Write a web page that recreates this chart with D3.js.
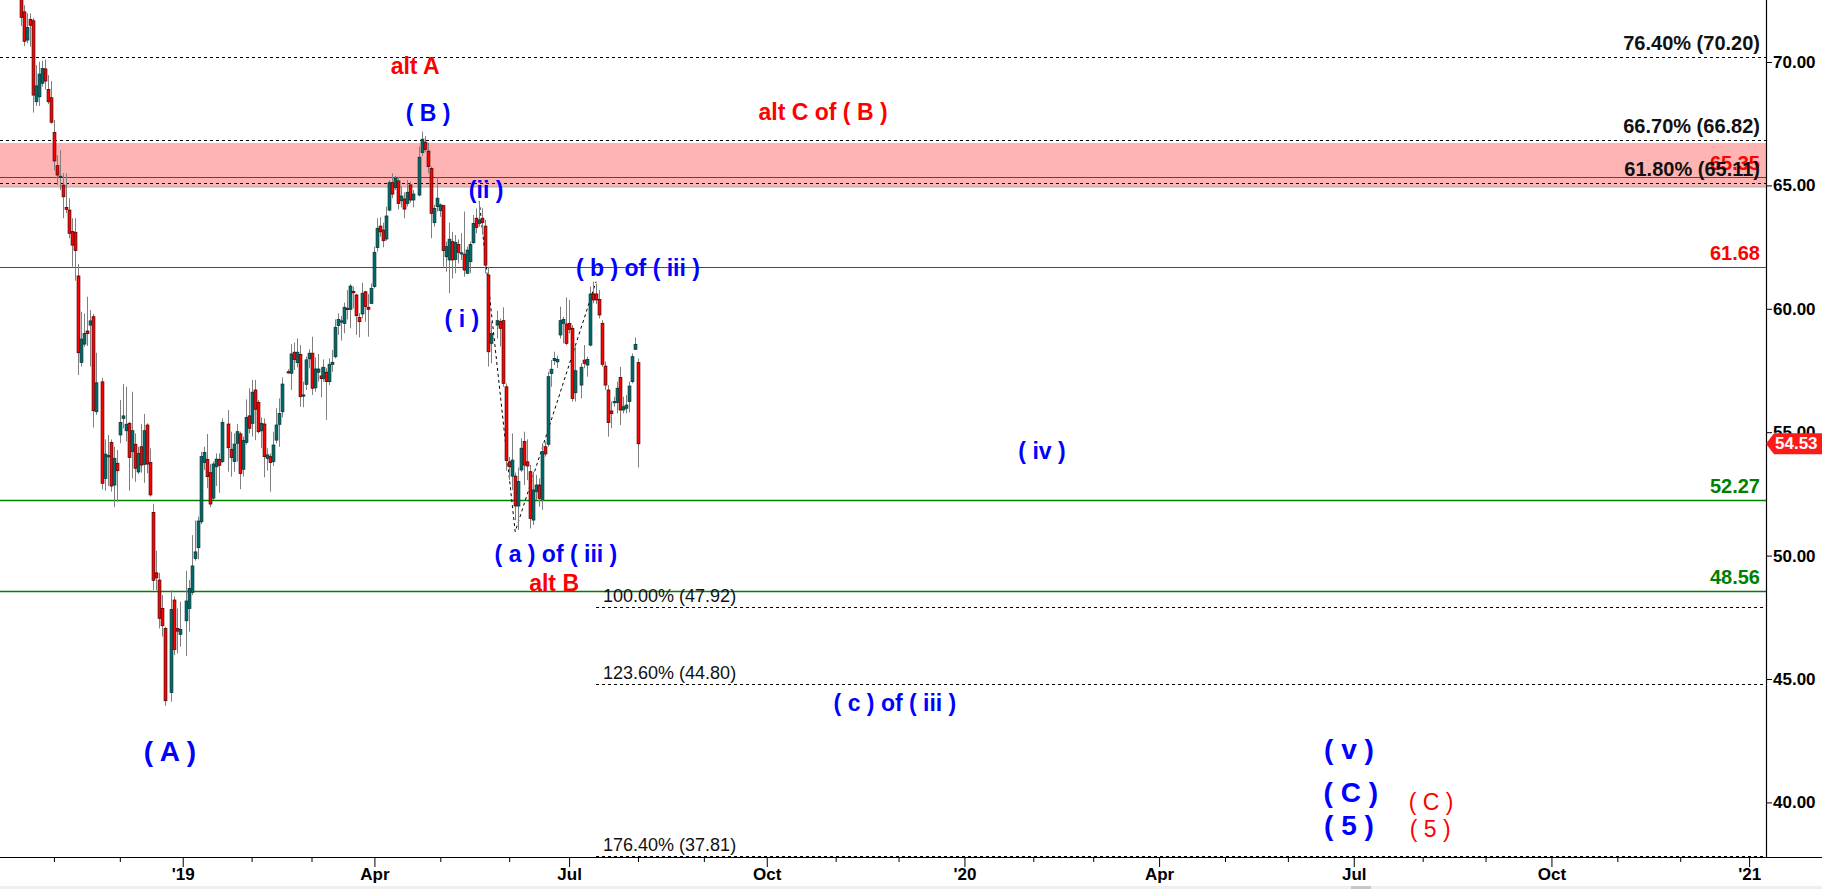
<!DOCTYPE html>
<html><head><meta charset="utf-8">
<script src="https://cdn.jsdelivr.net/npm/d3@7"></script>
<style>html,body{margin:0;padding:0;background:#fff;overflow:hidden}svg{display:block}</style>
</head><body><svg id="c" width="1822" height="889"></svg>
<script>
// ---------- DATA ----------
const startDate = "2018-10-17";   // first trading-day slot
const endDate = "2021-01-31";     // last slot of the time axis
// daily candles [open, high, low, close]; null = market holiday (empty slot)
const ohlc = [
[73.0,73.5,71.46,71.81],[72.03,72.3,70.65,70.84],[70.89,71.97,70.76,71.40],[71.73,71.97,70.62,71.49],
[71.67,71.77,67.95,68.66],[68.39,69.88,68.22,69.03],[68.59,70.01,68.22,69.51],[69.14,70.05,69.0,69.74],
[69.72,70.1,68.89,69.23],[68.89,69.47,68.3,68.39],[68.55,69.23,67.5,67.56],[67.14,67.65,65.6,65.99],
[65.80,66.23,65.01,65.42],[65.33,66.43,64.81,65.37],[65.01,65.49,63.67,64.54],[64.11,65.49,63.87,64.03],
[64.0,64.48,62.86,63.06],[63.13,63.67,61.71,62.58],[63.1,63.67,61.14,62.36],[61.33,61.82,57.32,58.22],
[57.83,59.88,57.66,58.77],[58.57,59.81,58.46,59.0],[59.10,60.49,58.49,59.0],[59.34,59.95,57.66,59.51],
[59.68,59.79,55.19,55.87],[55.83,58.22,55.7,57.0],null,[57.04,57.2,52.69,52.93],
[53.13,54.71,52.63,54.11],[54.03,54.89,52.82,54.05],[54.58,54.71,52.59,52.82],[52.86,54.41,51.96,53.94],
[53.74,54.28,52.19,53.44],[54.89,56.31,54.55,55.39],[55.56,56.95,55.15,55.66],[55.06,56.85,54.62,55.32],
[55.36,55.42,52.63,53.98],[54.21,56.64,53.13,55.06],[54.51,54.95,52.99,53.54],[53.39,54.41,53.30,54.14],
[54.41,55.33,53.36,53.67],[53.70,55.74,52.95,55.06],[55.29,55.36,53.33,53.71],[53.77,54.35,52.39,52.46],
[51.75,52.1,48.6,49.0],[49.3,50.2,48.6,49.1],[49.01,49.3,47.05,47.46],[47.86,48.40,46.72,47.16],
[47.05,47.12,43.91,44.12],null,[44.45,48.6,44.08,47.82],[48.2,48.34,45.97,46.2],
[47.05,47.86,46.04,46.94],[46.81,48.13,46.31,47.01],null,[47.36,49.39,45.93,48.16],
[47.86,49.01,46.92,48.67],[48.51,50.83,48.40,49.58],[49.88,51.42,49.80,50.15],[50.32,51.58,49.85,51.40],
[51.37,54.21,51.28,54.01],[53.77,54.41,53.47,54.18],[53.90,54.93,52.73,53.20],[53.36,53.71,51.96,52.09],
[52.33,53.81,52.25,53.71],[53.60,54.14,52.82,53.91],[53.90,54.14,52.55,53.66],[53.81,55.56,53.75,55.40],
null,[55.33,55.90,53.40,54.37],[54.31,55.02,53.20,53.98],[53.81,54.95,53.40,54.52],
[54.55,55.33,53.81,55.02],[54.93,55.02,52.69,53.33],[53.50,54.82,53.2,54.66],[54.59,56.33,54.5,55.60],
[55.66,56.78,54.95,55.16],[55.36,57.12,54.82,56.62],[56.71,57.12,54.68,55.93],[56.21,56.30,54.95,55.02],
[55.06,55.60,54.35,55.36],[55.33,55.56,53.17,54.01],[53.94,54.35,53.44,54.08],[54.01,54.14,52.59,53.77],
[53.81,55.02,53.63,54.48],[54.68,55.97,54.55,55.29],[55.32,56.37,54.41,55.76],[55.83,57.22,55.60,56.95],
null,[57.45,57.55,57.38,57.40],[57.39,58.57,56.71,58.17],[58.24,58.63,57.52,57.95],
[57.82,58.80,57.63,58.24],[58.15,58.53,56.03,56.44],[56.47,57.05,56.01,56.51],[56.94,58.06,56.71,57.93],
[57.97,58.36,57.59,58.20],[58.20,58.87,56.51,56.78],[56.80,58.03,56.64,57.56],[57.43,58.17,57.05,57.56],
[57.28,57.63,56.41,57.17],[57.18,57.95,57.05,57.63],[57.43,57.59,55.5,57.05],[57.05,57.99,56.91,57.75],
[57.75,58.33,57.45,57.83],[58.06,59.57,57.99,59.25],[59.32,59.82,58.94,59.57],[59.48,59.71,58.71,59.51],
[59.41,60.25,59.01,60.06],[60.02,60.76,59.57,59.97],[59.98,61.0,59.21,60.92],[60.70,60.90,60.02,60.65],
[60.56,60.60,58.94,59.72],[59.65,59.82,58.84,59.48],[59.79,61.06,59.61,60.63],[60.69,60.73,59.48,60.09],
[60.06,60.60,58.87,59.98],[60.22,61.03,60.19,60.83],[60.90,62.52,60.83,62.29],[62.48,63.67,62.32,63.26],
[63.35,63.71,62.92,63.12],[63.19,63.49,62.49,62.76],[62.83,64.14,62.76,63.76],[64.00,65.22,63.95,65.11],
[65.11,65.49,64.48,64.65],[64.91,65.38,64.81,65.29],[65.18,65.35,64.03,64.27],[64.38,64.95,64.11,64.57],
[64.45,64.71,63.67,64.04],[64.27,65.22,64.14,64.72],[65.02,65.15,64.30,64.41],[64.41,64.81,64.11,64.65],
null,[64.61,66.57,64.55,66.14],[66.33,67.18,66.19,66.87],[66.75,67.0,66.37,66.46],
[66.39,66.73,65.49,65.76],[65.69,65.76,62.86,63.87],[63.49,64.21,63.33,64.07],[64.14,65.33,63.94,64.48],
[63.98,64.27,63.73,64.21],[64.18,64.21,61.71,62.36],[62.11,62.72,61.50,62.52],[61.98,63.49,60.63,62.82],
[62.72,63.12,61.23,61.98],[62.0,62.99,61.44,62.69],[62.61,62.81,61.84,62.29],[62.23,63.06,61.98,62.27],
[62.21,63.94,61.30,61.57],[61.44,62.52,61.41,62.38],[61.91,62.72,61.46,62.61],[62.68,63.80,62.63,63.46],
[63.67,64.07,63.06,63.30],[63.46,64.37,63.33,63.60],[63.67,64.07,63.0,63.50],[63.35,63.60,61.44,61.77],
[61.37,61.71,57.66,58.26],[58.60,59.48,57.79,59.0],null,[59.34,59.92,58.80,59.52],
[59.48,59.61,58.47,59.21],[59.52,60.06,56.84,56.98],[56.84,56.98,53.44,53.85],[53.80,54.0,53.06,53.60],
[53.22,54.95,52.66,53.87],[53.22,53.36,51.44,52.01],[52.01,53.57,51.04,53.0],[53.47,54.75,53.40,54.35],
[54.62,55.02,52.86,53.67],[53.80,54.71,53.06,53.63],[53.40,53.67,51.10,51.51],[51.44,53.40,51.24,52.66],
[52.59,53.27,52.25,52.86],[52.86,53.13,51.98,52.32],[52.28,54.55,51.85,54.21],[54.41,54.62,54.01,54.12],
[54.51,57.45,54.41,57.25],[57.38,57.92,56.84,57.55],[57.90,58.26,57.72,57.99],[57.85,58.1,57.6,57.95],
[58.94,60.09,58.80,59.52],[59.41,59.68,58.60,59.57],[59.38,60.46,58.53,58.60],[59.41,60.36,59.0,59.17],
[59.21,59.34,56.24,56.37],[56.60,58.47,56.24,57.49],null,[56.91,57.79,56.37,57.63],
[57.92,58.53,57.59,57.79],[57.72,58.06,57.25,57.95],[58.53,60.90,58.47,60.60],[60.60,61.10,60.22,60.36],
[60.60,61.03,60.19,60.36],[60.38,60.76,59.61,59.75],[59.41,59.54,57.65,57.75],[57.68,57.86,56.71,56.91],
[56.71,56.91,54.82,55.39],[55.86,56.24,55.16,55.76],[56.20,56.44,56.03,56.24],[56.20,57.05,55.76,56.78],
[57.22,57.65,55.29,55.90],[55.90,56.44,55.76,56.03],[55.97,56.5,55.76,56.10],[56.24,57.05,55.80,56.87],
[57.05,58.19,56.98,58.06],[58.36,58.84,58.33,58.56],[57.82,57.99,53.57,54.53]
];
const yTicks = [40, 45, 50, 55, 60, 65, 70];
const monthNames = ["'YY","Feb","Mar","Apr","May","Jun","Jul","Aug","Sep","Oct","Nov","Dec"];
const zone = [64.94, 66.72];                       // pink resistance zone
const dottedLevels = [[70.20, "76.40% (70.20)"], [66.82, "66.70% (66.82)"], [65.11, "61.80% (65.11)"]];
const solidLevels = [[65.35, "65.35", "#ff0000"], [61.68, "61.68", "#ff0000"], [52.27, "52.27", "#008000"], [48.56, "48.56", "#008000"]];
const fibLevels = [[47.92, "100.00% (47.92)"], [44.80, "123.60% (44.80)"], [37.81, "176.40% (37.81)"]];
const fibStartSlot = 192;
const lastPrice = 54.53;
const wavePath = [[153, 64.37], [165, 50.97], [192, 61.10]];   // [slot, price]
// [text, slot, price, colour, font-size, weight]
const waveLabels = [
  ["alt A", 131.6, 69.84, "#ff0000", 23, "bold"],
  ["( B )", 135.9, 67.93, "#0000ff", 23, "bold"],
  ["(ii )", 155.3, 64.81, "#0000ff", 23, "bold"],
  ["( i )", 147.2, 59.59, "#0000ff", 23, "bold"],
  ["( b ) of ( iii )", 206, 61.65, "#0000ff", 23, "bold"],
  ["alt C of ( B )", 267.8, 67.97, "#ff0000", 23, "bold"],
  ["( iv )", 340.9, 54.24, "#0000ff", 23, "bold"],
  ["( a ) of ( iii )", 178.6, 50.07, "#0000ff", 23, "bold"],
  ["alt B", 178, 48.89, "#ff0000", 23, "bold"],
  ["( c ) of ( iii )", 291.8, 44.03, "#0000ff", 23, "bold"],
  ["( A )", 49.7, 42.08, "#0000ff", 28, "bold"],
  ["( v )", 443.4, 42.16, "#0000ff", 28, "bold"],
  ["( C )", 444, 40.42, "#0000ff", 28, "bold"],
  ["( 5 )", 443.4, 39.08, "#0000ff", 28, "bold"],
  ["( C )", 470.8, 40.02, "#ff0000", 23, "normal"],
  ["( 5 )", 470.5, 38.92, "#ff0000", 23, "normal"]
];

// ---------- LAYOUT ----------
const W = 1822, H = 889, plotR = 1766, plotB = 857;
const FONT = "'Liberation Sans', Arial, Helvetica, sans-serif";

// trading-day slots (weekdays) for the time axis
const slots = [];
for (let d = new Date(startDate + "T12:00:00Z"); d <= new Date(endDate + "T12:00:00Z"); d.setUTCDate(d.getUTCDate() + 1)) {
  const wd = d.getUTCDay();
  if (wd !== 0 && wd !== 6) slots.push(new Date(d));
}
const monthStarts = [];
slots.forEach((d, i) => {
  if (i === 0) return;
  if (d.getUTCMonth() !== slots[i - 1].getUTCMonth()) monthStarts.push({i, m: d.getUTCMonth(), y: d.getUTCFullYear()});
});

const x = d3.scaleLinear().domain([0, 577]).range([21, 21 + 2.995 * 577]);
const y = d3.scaleLinear().domain([40, 70]).range([802.4, 62]);

const svg = d3.select("#c").style("font-family", FONT);
svg.append("rect").attr("width", W).attr("height", H).attr("fill", "#fff");
svg.append("defs").append("clipPath").attr("id", "plot")
  .append("rect").attr("x", 0).attr("y", 0).attr("width", plotR).attr("height", plotB);
const g = svg.append("g").attr("clip-path", "url(#plot)");

// zone
g.append("rect").attr("x", 0).attr("width", plotR)
  .attr("y", y(zone[1])).attr("height", y(zone[0]) - y(zone[1])).attr("fill", "#ffb4b4");
g.append("line").attr("x1", 0).attr("x2", plotR).attr("y1", y(zone[0])).attr("y2", y(zone[0]))
  .attr("stroke", "#b0b0b0").attr("stroke-width", 1.2);

// solid level lines
solidLevels.forEach(([v, , c]) => {
  g.append("line").attr("x1", 0).attr("x2", plotR).attr("y1", Math.round(y(v)) + 0.5).attr("y2", Math.round(y(v)) + 0.5)
    .attr("stroke", c).attr("stroke-width", c === "#008000" ? 1.3 : 1.1);
});
// dotted fib levels (full width)
dottedLevels.forEach(([v]) => {
  g.append("line").attr("x1", 0).attr("x2", plotR).attr("y1", Math.round(y(v)) + 0.5).attr("y2", Math.round(y(v)) + 0.5)
    .attr("stroke", "#000").attr("stroke-width", 1).attr("stroke-dasharray", "3,3");
});
// dotted fib extensions
fibLevels.forEach(([v]) => {
  g.append("line").attr("x1", x(fibStartSlot)).attr("x2", plotR).attr("y1", Math.round(y(v)) + 0.5).attr("y2", Math.round(y(v)) + 0.5)
    .attr("stroke", "#000").attr("stroke-width", 1).attr("stroke-dasharray", "3,3");
});

// wave path
g.append("path").attr("d", d3.line().x(d => x(d[0])).y(d => y(d[1]))(wavePath))
  .attr("fill", "none").attr("stroke", "#000").attr("stroke-width", 1).attr("stroke-dasharray", "3,3");

// candles
const cg = g.append("g");
ohlc.forEach((d, i) => {
  if (!d) return;
  const [o, h, l, c] = d;
  const cx = Math.round(x(i));
  cg.append("line").attr("x1", cx + 0.5).attr("x2", cx + 0.5).attr("y1", y(h)).attr("y2", y(l))
    .attr("stroke", "#808080").attr("stroke-width", 1);
  const up = c >= o;
  const top = y(Math.max(o, c)), bot = y(Math.min(o, c));
  cg.append("rect").attr("x", cx - 0.9).attr("width", 2.8)
    .attr("y", top).attr("height", Math.max(1.2, bot - top))
    .attr("fill", up ? "#006a6a" : "#ff0000")
    .attr("stroke", up ? "#053838" : "#5a0000").attr("stroke-width", 0.8);
});

// right level labels
const lab = svg.append("g").attr("font-size", 20).attr("font-weight", "bold").attr("text-anchor", "end");
solidLevels.forEach(([v, t, c]) => {
  lab.append("text").attr("x", 1760).attr("y", y(v) - 7).attr("fill", c).text(t);
});
dottedLevels.forEach(([v, t]) => {
  lab.append("text").attr("x", 1760).attr("y", y(v) - 7).attr("fill", "#111").text(t);
});
// fib extension labels
fibLevels.forEach(([v, t]) => {
  svg.append("text").attr("x", x(fibStartSlot) + 7).attr("y", y(v) - 5).attr("font-size", 18)
    .attr("fill", "#111").text(t);
});

// wave labels
waveLabels.forEach(([t, s, p, c, fs, fw]) => {
  svg.append("text").attr("x", x(s)).attr("y", y(p)).attr("text-anchor", "middle")
    .attr("dominant-baseline", "central").attr("font-size", fs).attr("font-weight", fw)
    .attr("fill", c).text(t);
});

// axes lines
svg.append("line").attr("x1", 0).attr("x2", W).attr("y1", plotB + 0.5).attr("y2", plotB + 0.5).attr("stroke", "#000").attr("stroke-width", 1.2);
svg.append("line").attr("x1", plotR + 0.5).attr("x2", plotR + 0.5).attr("y1", 0).attr("y2", plotB).attr("stroke", "#000").attr("stroke-width", 1.2);

// y axis
const ya = svg.append("g").attr("transform", `translate(${plotR},0)`)
  .call(d3.axisRight(y).tickValues(yTicks).tickSize(6).tickPadding(1).tickFormat(d3.format(".2f")));
ya.select(".domain").remove();
ya.selectAll("text").attr("font-size", 17).attr("font-weight", "bold").attr("font-family", FONT).attr("fill", "#000");
ya.selectAll("line").attr("stroke", "#000");

// x axis: monthly minor ticks + quarterly labelled ticks
const minor = monthStarts.filter(m => m.m % 3 !== 0).map(m => m.i);
const major = monthStarts.filter(m => m.m % 3 === 0);
const xm = svg.append("g").attr("transform", `translate(0,${plotB})`)
  .call(d3.axisBottom(x).tickValues(minor).tickSize(5).tickFormat(""));
xm.select(".domain").remove();
xm.selectAll("line").attr("stroke", "#000");
const xM = svg.append("g").attr("transform", `translate(0,${plotB})`)
  .call(d3.axisBottom(x).tickValues(major.map(m => m.i)).tickSize(10).tickPadding(1)
    .tickFormat((v, k) => { const m = major[k]; return m.m === 0 ? "'" + String(m.y).slice(2) : monthNames[m.m]; }));
xM.select(".domain").remove();
xM.selectAll("line").attr("stroke", "#000");
xM.selectAll("text").attr("font-size", 17).attr("font-weight", "bold").attr("font-family", FONT).attr("fill", "#000");

// last price tag
const ly = y(lastPrice);
svg.append("path").attr("d", `M${plotR},${ly} L${plotR + 8},${ly - 10.5} L${W},${ly - 10.5} L${W},${ly + 10.5} L${plotR + 8},${ly + 10.5} Z`)
  .attr("fill", "#ff1a1a");
svg.append("text").attr("x", plotR + 9).attr("y", ly).attr("dominant-baseline", "central")
  .attr("font-size", 17).attr("font-weight", "bold").attr("fill", "#fff").text(lastPrice.toFixed(2));

// scrollbar strip
svg.append("rect").attr("x", 0).attr("y", 886).attr("width", W).attr("height", 3).attr("fill", "#efefef");
svg.append("rect").attr("x", 1351).attr("y", 886).attr("width", 20).attr("height", 3).attr("fill", "#c8c8c8");
</script></body></html>
